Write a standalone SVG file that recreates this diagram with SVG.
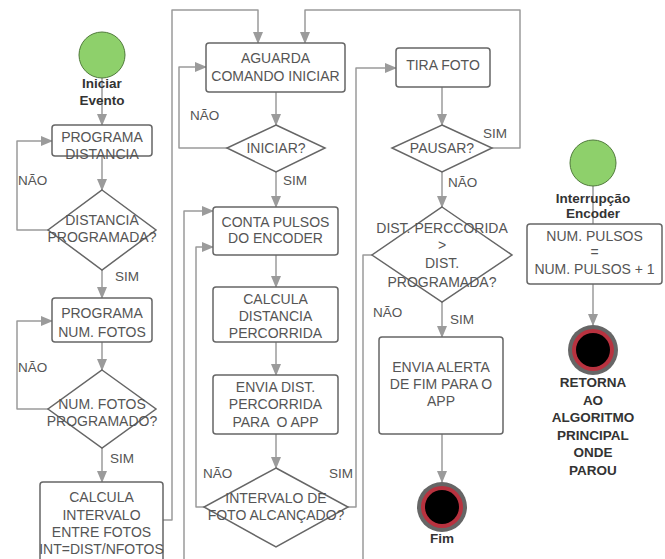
<svg xmlns="http://www.w3.org/2000/svg" width="665" height="559" viewBox="0 0 665 559">
<defs>
<style>
.box{fill:#fff;stroke:#666;stroke-width:1.5}
.dia{fill:#fff;stroke:#666;stroke-width:1.5}
.t{font-family:"Liberation Sans",Arial,sans-serif;font-size:14px;fill:#555;text-anchor:middle;white-space:pre}
.l{font-family:"Liberation Sans",Arial,sans-serif;font-size:13.5px;fill:#555}
.b{font-family:"Liberation Sans",Arial,sans-serif;font-size:13.5px;font-weight:bold;fill:#333;text-anchor:middle}
.c{fill:none;stroke:#9b9b9b;stroke-width:1.5;stroke-linejoin:round}
.start{fill:#8ed06b;stroke:#4f7a3a;stroke-width:1}
</style>
<marker id="ah" markerWidth="12" markerHeight="10" refX="11" refY="5" orient="auto" markerUnits="userSpaceOnUse">
<path d="M0,0 L12,5 L0,10 z" fill="#9b9b9b"/>
</marker>
</defs>
<rect width="665" height="559" fill="#fff"/>

<g id="connectors">
<path class="c" d="M102,78 V125" marker-end="url(#ah)"/>
<path class="c" d="M102,156 V190" marker-end="url(#ah)"/>
<path class="c" d="M48,230 H17 V141 H52" marker-end="url(#ah)"/>
<path class="c" d="M102,270 V298" marker-end="url(#ah)"/>
<path class="c" d="M102,342 V370" marker-end="url(#ah)"/>
<path class="c" d="M48,409 H17 V321 H52" marker-end="url(#ah)"/>
<path class="c" d="M102,448 V482" marker-end="url(#ah)"/>
<path class="c" d="M163,520 H172 V10 H258 V43" marker-end="url(#ah)"/>
<path class="c" d="M276,92 V125" marker-end="url(#ah)"/>
<path class="c" d="M227,148 H179 V67 H206" marker-end="url(#ah)"/>
<path class="c" d="M276,172 V207" marker-end="url(#ah)"/>
<path class="c" d="M276,255 V287" marker-end="url(#ah)"/>
<path class="c" d="M276,342 V375" marker-end="url(#ah)"/>
<path class="c" d="M276,434 V468" marker-end="url(#ah)"/>
<path class="c" d="M204,507 H196 V247 H213" marker-end="url(#ah)"/>
<path class="c" d="M348,507 H356 V68 H396" marker-end="url(#ah)"/>
<path class="c" d="M372,255 H363 V575 H184 V211 H213" marker-end="url(#ah)"/>
<path class="c" d="M442,87 V125" marker-end="url(#ah)"/>
<path class="c" d="M492,148 H520 V10 H305 V43" marker-end="url(#ah)"/>
<path class="c" d="M442,172 V207" marker-end="url(#ah)"/>
<path class="c" d="M442,302 V337" marker-end="url(#ah)"/>
<path class="c" d="M442,434 V482" marker-end="url(#ah)"/>
<path class="c" d="M593,186 V224"/>
<path class="c" d="M593,284 V325" marker-end="url(#ah)"/>
</g>

<g id="labels">
<text class="l" x="18" y="185">NÃO</text>
<text class="l" x="115" y="281">SIM</text>
<text class="l" x="18" y="372">NÃO</text>
<text class="l" x="110" y="463">SIM</text>
<text class="l" x="190" y="120">NÃO</text>
<text class="l" x="283" y="185">SIM</text>
<text class="l" x="203" y="478">NÃO</text>
<text class="l" x="329" y="478">SIM</text>
<text class="l" x="483" y="138">SIM</text>
<text class="l" x="448" y="187">NÃO</text>
<text class="l" x="373" y="317">NÃO</text>
<text class="l" x="450" y="324">SIM</text>
</g>

<g id="iniciar-evento">
<circle class="start" cx="102" cy="55" r="23"/>
<text class="b" x="102" y="88">Iniciar</text>
<text class="b" x="102" y="105">Evento</text>
</g>

<g id="programa-distancia">
<rect class="box" x="52" y="125" width="100" height="31" rx="3"/>
<text class="t" x="102" y="142">PROGRAMA</text>
<text class="t" x="102" y="159">DISTANCIA</text>
</g>

<g id="distancia-programada">
<polygon class="dia" points="102,190 156,230 102,270 48,230"/>
<text class="t" x="102" y="225">DISTANCIA</text>
<text class="t" x="102" y="242">PROGRAMADA?</text>
</g>

<g id="programa-num-fotos">
<rect class="box" x="52" y="298" width="100" height="44" rx="3"/>
<text class="t" x="102" y="318">PROGRAMA</text>
<text class="t" x="102" y="337">NUM. FOTOS</text>
</g>

<g id="num-fotos-programado">
<polygon class="dia" points="102,370 156,409 102,448 48,409"/>
<text class="t" x="102" y="409">NUM. FOTOS</text>
<text class="t" x="102" y="426">PROGRAMADO?</text>
</g>

<g id="calcula-intervalo">
<rect class="box" x="40" y="482" width="123" height="95" rx="3"/>
<text class="t" x="101.5" y="502">CALCULA</text>
<text class="t" x="101.5" y="520">INTERVALO</text>
<text class="t" x="101.5" y="537">ENTRE FOTOS</text>
<text class="t" x="101.5" y="554">INT=DIST/NFOTOS</text>
</g>

<g id="aguarda-comando">
<rect class="box" x="206" y="43" width="139" height="49" rx="3"/>
<text class="t" x="275.5" y="63">AGUARDA</text>
<text class="t" x="275.5" y="81">COMANDO INICIAR</text>
</g>

<g id="iniciar">
<polygon class="dia" points="276,125 325,148 276,172 227,148"/>
<text class="t" x="276" y="153">INICIAR?</text>
</g>

<g id="conta-pulsos">
<rect class="box" x="213" y="207" width="125" height="48" rx="3"/>
<text class="t" x="275.5" y="227">CONTA PULSOS</text>
<text class="t" x="275.5" y="243">DO ENCODER</text>
</g>

<g id="calcula-distancia">
<rect class="box" x="213" y="287" width="125" height="55" rx="3"/>
<text class="t" x="275.5" y="304">CALCULA</text>
<text class="t" x="275.5" y="321">DISTANCIA</text>
<text class="t" x="275.5" y="338">PERCORRIDA</text>
</g>

<g id="envia-dist">
<rect class="box" x="213" y="375" width="125" height="59" rx="3"/>
<text class="t" x="275.5" y="392">ENVIA DIST.</text>
<text class="t" x="275.5" y="409">PERCORRIDA</text>
<text class="t" x="275.5" y="427">PARA  O APP</text>
</g>

<g id="intervalo-alcancado">
<polygon class="dia" points="276,468 348,507 276,547 204,507"/>
<text class="t" x="276" y="503">INTERVALO DE</text>
<text class="t" x="276" y="520">FOTO ALCANÇADO?</text>
</g>

<g id="tira-foto">
<rect class="box" x="396" y="48" width="94" height="39" rx="3"/>
<text class="t" x="443" y="70">TIRA FOTO</text>
</g>

<g id="pausar">
<polygon class="dia" points="442,125 492,148 442,172 392,148"/>
<text class="t" x="442" y="153">PAUSAR?</text>
</g>

<g id="dist-percorrida">
<polygon class="dia" points="442,207 512,255 442,302 372,255"/>
<text class="t" x="442" y="233">DIST. PERCCORIDA</text>
<text class="t" x="442" y="250">&gt;</text>
<text class="t" x="442" y="268">DIST.</text>
<text class="t" x="442" y="287">PROGRAMADA?</text>
</g>

<g id="envia-alerta">
<rect class="box" x="379" y="337" width="124" height="97" rx="3"/>
<text class="t" x="441" y="372">ENVIA ALERTA</text>
<text class="t" x="441" y="389">DE FIM PARA O</text>
<text class="t" x="441" y="406">APP</text>
</g>

<g id="fim">
<circle cx="442" cy="507" r="25" fill="#666"/>
<circle cx="442" cy="507" r="21" fill="#b8323f"/>
<circle cx="442" cy="507" r="17" fill="#000"/>
<text class="b" x="442" y="543">Fim</text>
</g>

<g id="interrupcao-encoder">
<circle class="start" cx="593" cy="163" r="23"/>
<text class="b" x="593" y="203">Interrupção</text>
<text class="b" x="593" y="218">Encoder</text>
</g>

<g id="num-pulsos">
<rect class="box" x="527" y="224" width="135" height="60" rx="3"/>
<text class="t" x="594.5" y="241">NUM. PULSOS</text>
<text class="t" x="594.5" y="257">=</text>
<text class="t" x="594.5" y="274">NUM. PULSOS + 1</text>
</g>

<g id="retorna">
<circle cx="593" cy="350" r="25" fill="#666"/>
<circle cx="593" cy="350" r="21" fill="#b8323f"/>
<circle cx="593" cy="350" r="17" fill="#000"/>
<text class="b" x="593" y="387">RETORNA</text>
<text class="b" x="593" y="404.5">AO</text>
<text class="b" x="593" y="422">ALGORITMO</text>
<text class="b" x="593" y="439.5">PRINCIPAL</text>
<text class="b" x="593" y="457">ONDE</text>
<text class="b" x="593" y="474.5">PAROU</text>
</g>
</svg>
